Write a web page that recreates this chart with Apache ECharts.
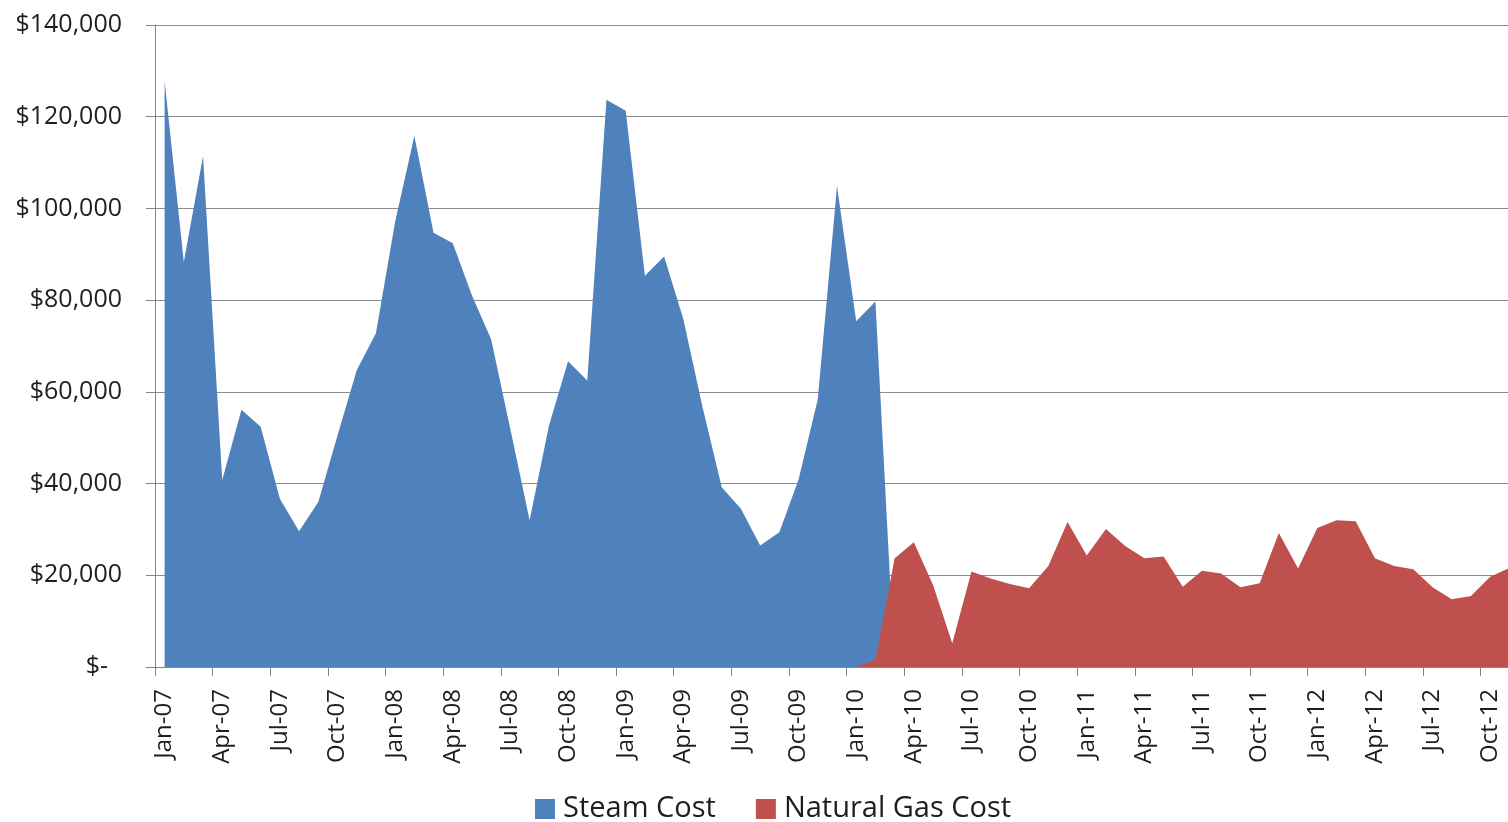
<!DOCTYPE html>
<html>
<head>
<meta charset="utf-8">
<script src="https://cdn.jsdelivr.net/npm/echarts@6/dist/echarts.min.js"></script>
<style>
html,body{margin:0;padding:0;background:#fff;overflow:hidden;width:1508px;height:822px;}
#chart{width:1519px;height:822px;}
</style>
</head>
<body>
<div id="chart"></div>
<script>
const months = [
 'Jan-07','Feb-07','Mar-07','Apr-07','May-07','Jun-07','Jul-07','Aug-07','Sep-07','Oct-07','Nov-07','Dec-07',
 'Jan-08','Feb-08','Mar-08','Apr-08','May-08','Jun-08','Jul-08','Aug-08','Sep-08','Oct-08','Nov-08','Dec-08',
 'Jan-09','Feb-09','Mar-09','Apr-09','May-09','Jun-09','Jul-09','Aug-09','Sep-09','Oct-09','Nov-09','Dec-09',
 'Jan-10','Feb-10','Mar-10','Apr-10','May-10','Jun-10','Jul-10','Aug-10','Sep-10','Oct-10','Nov-10','Dec-10',
 'Jan-11','Feb-11','Mar-11','Apr-11','May-11','Jun-11','Jul-11','Aug-11','Sep-11','Oct-11','Nov-11','Dec-11',
 'Jan-12','Feb-12','Mar-12','Apr-12','May-12','Jun-12','Jul-12','Aug-12','Sep-12','Oct-12','Nov-12'
];

const steamCost = [
 127800, 88300, 111400, 40800, 56100, 52400, 36700, 29600, 36000, 50500, 64700, 72800,
 97100, 115800, 94700, 92400, 81000, 71400, 51800, 32000, 52500, 66700, 62500, 123700,
 121300, 85300, 89500, 75900, 56700, 39200, 34500, 26500, 29400, 40900, 58400, 104900,
 75400, 79700, 0, null, null, null, null, null, null, null, null, null,
 null, null, null, null, null, null, null, null, null, null, null, null,
 null, null, null, null, null, null, null, null, null, null, null
];

const naturalGasCost = [
 null, null, null, null, null, null, null, null, null, null, null, null,
 null, null, null, null, null, null, null, null, null, null, null, null,
 null, null, null, null, null, null, null, null, null, null, null, null,
 0, 1600, 23700, 27200, 17900, 5200, 20800, 19300, 18100, 17150, 22000, 31600,
 24300, 30100, 26400, 23700, 24100, 17500, 21000, 20400, 17400, 18250, 29200, 21500,
 30300, 32000, 31800, 23700, 22000, 21300, 17400, 14800, 15500, 19700, 21600
];

const seriesNames = ['Steam Cost', 'Natural Gas Cost'];
const yTicks = [0, 20000, 40000, 60000, 80000, 100000, 120000, 140000];

const chart = echarts.init(document.getElementById('chart'), null, {renderer: 'canvas'});
const FONT = '"Open Sans", "DejaVu Sans", sans-serif';
const TXT = '#1e1e1e';

chart.setOption({
  animation: false,
  backgroundColor: '#ffffff',
  color: ['#4F81BD', '#C0504D'],
  grid: {left: 155, top: 25, right: 0, height: 642, containLabel: false},
  legend: {
    data: seriesNames,
    left: 535,
    top: 794,
    padding: 0,
    itemWidth: 20,
    itemHeight: 20,
    itemGap: 40,
    icon: 'rect',
    textStyle: {fontFamily: FONT, fontSize: 29, color: TXT, lineHeight: 30, padding: [0, 0, 0, 3]}
  },
  xAxis: {
    type: 'category',
    data: months,
    boundaryGap: true,
    axisLine: {show: true, lineStyle: {color: '#868686', width: 1}},
    axisTick: {show: true, interval: 2, length: 9, lineStyle: {color: '#868686', width: 1}},
    axisLabel: {
      interval: 2, rotate: 90, margin: 22,
      fontFamily: FONT, fontSize: 24, color: TXT
    },
    splitLine: {show: false}
  },
  yAxis: {
    type: 'value',
    min: yTicks[0], max: yTicks[yTicks.length - 1], interval: 20000,
    axisLine: {show: true, lineStyle: {color: '#868686', width: 1}},
    axisTick: {show: true, length: 9, lineStyle: {color: '#868686', width: 1}},
    axisLabel: {
      margin: 33, fontFamily: FONT, fontSize: 25, color: TXT,
      formatter: function (v) {
        if (v === 0) return '{z|$-}';
        return '$' + v.toLocaleString('en-US');
      },
      rich: {z: {fontFamily: FONT, fontSize: 25, color: TXT, padding: [0, 14, 0, 0]}}
    },
    splitLine: {show: true, lineStyle: {color: '#8c8c8c', width: 1}}
  },
  series: [
    {
      name: seriesNames[0], type: 'line', data: steamCost,
      symbol: 'none', showSymbol: false, connectNulls: false,
      lineStyle: {width: 0},
      areaStyle: {color: '#4F81BD', opacity: 1},
      z: 2
    },
    {
      name: seriesNames[1], type: 'line', data: naturalGasCost,
      symbol: 'none', showSymbol: false, connectNulls: false,
      lineStyle: {width: 0},
      areaStyle: {color: '#C0504D', opacity: 1},
      z: 3
    }
  ]
});
</script>
</body>
</html>
